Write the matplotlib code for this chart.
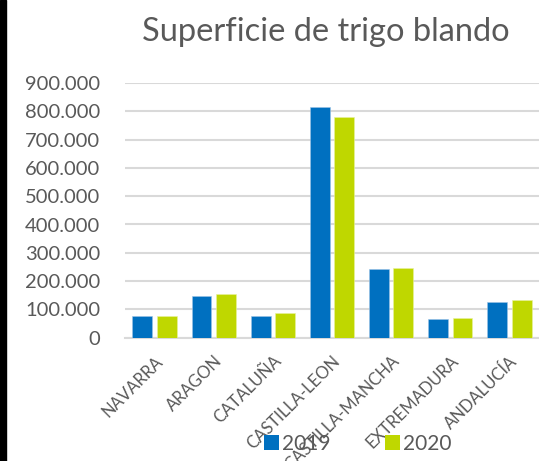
import matplotlib
matplotlib.use("Agg")
import matplotlib.pyplot as plt
import numpy as np
from matplotlib.patches import Rectangle

categories = ["NAVARRA", "ARAGON", "CATALUÑA", "CASTILLA-LEON",
              "CASTILLA-MANCHA", "EXTREMADURA", "ANDALUCÍA"]
v2019 = [76000, 149000, 75000, 816000, 242000, 66000, 126000]
v2020 = [75000, 156000, 89000, 781000, 248000, 69000, 132000]
yticks = [0, 100000, 200000, 300000, 400000, 500000, 600000, 700000, 800000, 900000]
ytick_labels = ["0", "100.000", "200.000", "300.000", "400.000", "500.000",
                "600.000", "700.000", "800.000", "900.000"]
series_names = ["2019", "2020"]

plt.rcParams['font.family'] = ['Lato', 'DejaVu Sans']
TXT = "#595959"
BLUE = "#0070C0"
LIME = "#BFD700"

W, H = 539, 461
fig = plt.figure(figsize=(W / 100, H / 100), dpi=100)
fig.patches.append(Rectangle((0, 0), 6 / W, 1, transform=fig.transFigure,
                             color="black", zorder=10))

ax = fig.add_axes([125 / W, 1 - 337.7 / H, (539 - 125) / W, (337.7 - 83) / H])
x = np.arange(len(categories))
bw = 0.335
off = 0.206
ax.bar(x - off, v2019, bw, color=BLUE, edgecolor="#9DC3E6", linewidth=0.4,
       label=series_names[0], zorder=3)
ax.bar(x + off, v2020, bw, color=LIME, edgecolor="#E8F2A0", linewidth=0.4,
       label=series_names[1], zorder=3)

ax.set_xlim(-0.5, len(categories) - 0.5)
ax.set_ylim(0, 900000)
ax.set_yticks(yticks)
ax.set_yticklabels(ytick_labels, fontsize=14.5, color=TXT)
ax.grid(axis="y", color="#D9D9D9", linewidth=1.5, zorder=0)
ax.tick_params(axis="y", length=0, pad=18)
ax.tick_params(axis="x", length=0, pad=11)
for s in ["top", "right", "left"]:
    ax.spines[s].set_visible(False)
ax.spines["bottom"].set_color("#D9D9D9")
ax.spines["bottom"].set_linewidth(1.5)

ax.set_xticks(x)
ax.set_xticklabels(categories, fontsize=12, color=TXT, rotation=45,
                   ha="right", va="top", rotation_mode="anchor")

fig.text(326 / W, 1 - 32 / H, "Superficie de trigo blando", fontsize=23.5,
         color=TXT, ha="center", va="center")

leg = fig.legend(loc="center", bbox_to_anchor=(358 / W, 1 - 444 / H),
                 ncol=2, frameon=False, fontsize=15, handlelength=0.72,
                 handleheight=0.72, handletextpad=0.15, columnspacing=2.6,
                 labelcolor=TXT)
for h in leg.legend_handles:
    h.set_edgecolor("none")

fig.savefig("out.png", dpi=100)
